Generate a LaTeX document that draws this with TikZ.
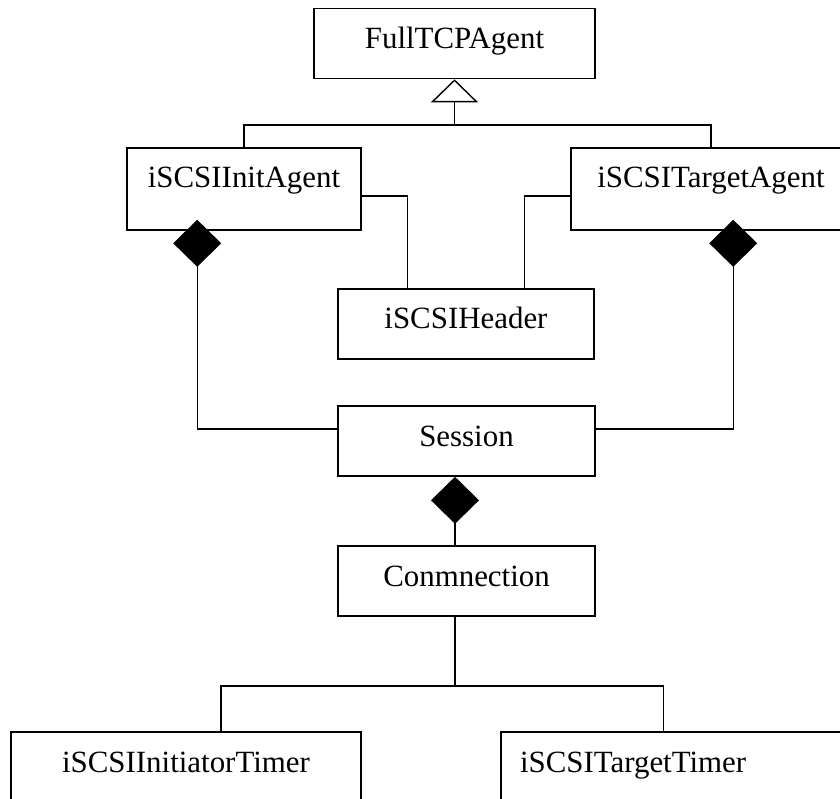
\documentclass[tikz,border=0pt]{standalone}
\usepackage{fontspec}
\setmainfont{Liberation Serif}
\usetikzlibrary{arrows.meta,calc}

\begin{document}
\begin{tikzpicture}[
  x=1pt, y=-1pt,
  cls/.style={draw, line width=1.6pt, rectangle, inner xsep=0pt, inner ysep=0pt,
    text height=40pt, text depth=30pt, font=\fontsize{30.9}{36}\selectfont},
  tall/.style={text depth=42pt},
  link/.style={line width=1.4pt},
  gen/.style={link, -{Triangle[open, length=23pt, width=47pt]}},
  comp/.style={link, -{Diamond[length=47pt, width=48pt]}}
]
  \useasboundingbox (0,0) rectangle (840,799);
  \fill[white] (0,0) rectangle (840,799);
  \clip (0,0) rectangle (840,799);

  % --- classes ---
  \node[cls, minimum width=281pt]          (full)    at (454.5,43.5) {FullTCPAgent};
  \node[cls, tall, minimum width=234pt]    (init)    at (244,189)    {iSCSIInitAgent};
  \node[cls, tall, minimum width=280pt]    (target)  at (711,189)    {iSCSITargetAgent};
  \node[cls, minimum width=256pt]          (header)  at (466,324)    {iSCSIHeader};
  \node[cls, minimum width=257pt]          (session) at (466.5,441)  {Session};
  \node[cls, minimum width=257pt]          (conm)    at (466.5,581)  {Conmnection};
  \node[cls, tall, minimum width=350pt]    (itimer)  at (186,773)    {iSCSIInitiatorTimer};
  \node[cls, tall, inner xsep=19pt, text width=321pt, align=left]
                                           (ttimer)  at (680.5,773)  {iSCSITargetTimer};

  % --- generalization ---
  \coordinate (genjoin) at (454.5,125);
  \draw[link] (init.north) |- (genjoin) -| (target.north);
  \draw[gen] (genjoin) -- (full.south);

  % --- header links ---
  \draw[link] ($(init.east)+(0,7)$) -| ($(header.north west)+(70,0)$);
  \draw[link] ($(target.west)+(0,7)$) -| ($(header.north west)+(187,0)$);

  % --- compositions ---
  \draw[comp] ($(session.west)+(0,-12)$) -| ($(init.south west)+(71,-11)$);
  \draw[comp] ($(session.east)+(0,-12)$) -| ($(target.south west)+(163,-11)$);
  \draw[comp] ($(conm.north)+(-11.5,0)$) -- ($(session.south)+(-11.5,0)$);

  % --- timers ---
  \coordinate (tjoin) at (455,686);
  \draw[link] ($(conm.south)+(-11.5,0)$) -- (tjoin);
  \draw[link] ($(itimer.north)+(35,0)$) |- (tjoin) -| ($(ttimer.north west)+(163,0)$);
\end{tikzpicture}
\end{document}
